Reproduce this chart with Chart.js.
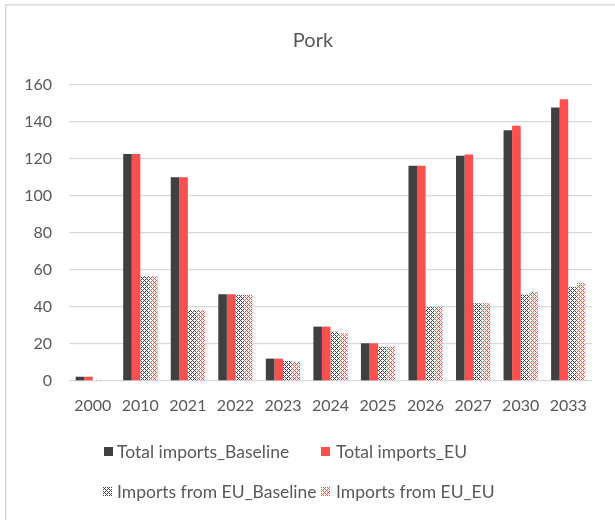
<!DOCTYPE html>
<html>
<head>
<meta charset="utf-8">
<script src="https://cdn.jsdelivr.net/npm/chart.js@4"></script>
<style>
  html, body { margin: 0; padding: 0; background: #fff; }
  #wrap { position: relative; width: 615px; height: 520px; }
</style>
</head>
<body>
<div id="wrap"><canvas id="c" width="615" height="520"></canvas></div>
<script>
const categories = ['2000','2010','2021','2022','2023','2024','2025','2026','2027','2030','2033'];
const totalBaseline = [2.3, 122.7, 110.1, 46.9, 12.1, 29.4, 20.4, 116.4, 121.8, 135.5, 147.9];
const totalEU       = [2.3, 122.7, 110.1, 46.9, 12.1, 29.4, 20.4, 116.4, 122.5, 138.0, 152.3];
const fromEUBaseline = [0.5, 56.8, 38.4, 46.5, 10.8, 26.7, 18.6, 40.2, 42.0, 46.8, 51.0];
const fromEUEU       = [0.5, 56.8, 38.4, 46.5, 10.4, 25.8, 18.6, 40.2, 42.0, 48.3, 53.1];
const seriesNames = ['Total imports_Baseline', 'Total imports_EU', 'Imports from EU_Baseline', 'Imports from EU_EU'];
const chartTitle = 'Pork';
const yTicks = [0, 20, 40, 60, 80, 100, 120, 140, 160];

const DARK = '#404040', RED = '#FF5050', TEXT = '#595959', GRID = '#d9d9d9';
const FONT = 'Lato, "Open Sans", sans-serif';

function makePattern(color) {
  const c = document.createElement('canvas');
  c.width = 4; c.height = 4;
  const g = c.getContext('2d');
  g.fillStyle = '#fff';
  g.fillRect(0, 0, 4, 4);
  g.fillStyle = color;
  for (let y = 0; y < 4; y++) for (let x = 0; x < 4; x++) {
    if ((x + y) % 4 === 0 || ((x - y) + 4) % 4 === 0) g.fillRect(x, y, 1, 1);
  }
  return g.createPattern(c, 'repeat');
}
const patDark = makePattern(DARK);
const patRed = makePattern(RED);
const fills = [DARK, RED, patDark, patRed];

const bgPlugin = {
  id: 'bg',
  beforeDraw(chart) {
    const ctx = chart.ctx;
    ctx.save();
    ctx.fillStyle = '#fff';
    ctx.fillRect(0, 0, chart.width, chart.height);
    ctx.strokeStyle = GRID;
    ctx.lineWidth = 1.5;
    ctx.beginPath();
    ctx.moveTo(5.75, chart.height);
    ctx.lineTo(5.75, 4.75);
    ctx.lineTo(chart.width, 4.75);
    ctx.stroke();
    ctx.restore();
  }
};

const titleLegendPlugin = {
  id: 'titleLegend',
  afterDraw(chart) {
    const ctx = chart.ctx;
    ctx.save();
    // title
    ctx.font = '20px ' + FONT;
    ctx.fillStyle = TEXT;
    ctx.textAlign = 'center';
    ctx.textBaseline = 'middle';
    ctx.fillText(chartTitle, 313, 41);
    // legend
    ctx.font = '17.5px ' + FONT;
    const pos = [
      {bx: 104, tx: 117, y: 452},
      {bx: 321, tx: 336, y: 452},
      {bx: 103, tx: 117, y: 492},
      {bx: 321, tx: 336, y: 492}
    ];
    seriesNames.forEach((name, i) => {
      const p = pos[i];
      ctx.fillStyle = fills[i];
      ctx.fillRect(p.bx, p.y - 5, 9, 9);
      ctx.fillStyle = TEXT;
      ctx.textAlign = 'left';
      ctx.fillText(name, p.tx, p.y);
    });
    ctx.restore();
  }
};

new Chart(document.getElementById('c'), {
  type: 'bar',
  data: {
    labels: categories,
    datasets: [
      { label: seriesNames[0], data: totalBaseline, backgroundColor: fills[0] },
      { label: seriesNames[1], data: totalEU, backgroundColor: fills[1] },
      { label: seriesNames[2], data: fromEUBaseline, backgroundColor: fills[2] },
      { label: seriesNames[3], data: fromEUEU, backgroundColor: fills[3] }
    ]
  },
  options: {
    responsive: false,
    animation: false,
    devicePixelRatio: 1,
    layout: { padding: { top: 85, left: 0, right: 23, bottom: 0 } },
    datasets: { bar: { barPercentage: 1.0, categoryPercentage: 0.72, borderWidth: 0 } },
    plugins: {
      legend: { display: false },
      tooltip: { enabled: false },
      title: { display: false }
    },
    scales: {
      x: {
        grid: { display: false, drawTicks: false },
        border: { display: false },
        ticks: { color: TEXT, font: { family: FONT, size: 16 }, padding: 15, maxRotation: 0, autoSkip: false },
        afterFit(scale) { scale.height = 139; }
      },
      y: {
        min: 0, max: 160,
        afterBuildTicks(scale) { scale.ticks = yTicks.map(v => ({ value: v })); },
        grid: { color: GRID, lineWidth: 1.3, drawTicks: false },
        border: { display: false },
        ticks: { color: TEXT, font: { family: FONT, size: 16 }, padding: 17 },
        afterFit(scale) { scale.width = 69; }
      }
    }
  },
  plugins: [bgPlugin, titleLegendPlugin]
});
</script>
</body>
</html>
